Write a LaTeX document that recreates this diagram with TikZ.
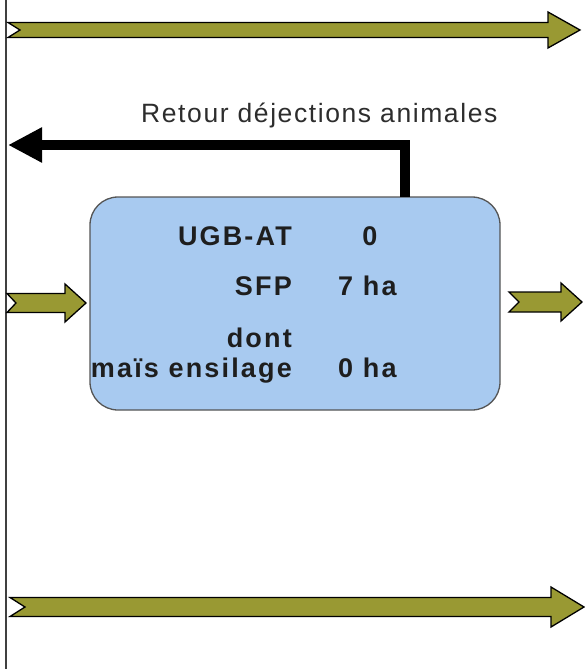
\documentclass[tikz,border=0pt]{standalone}
\usepackage{fontspec}
\setmainfont{Liberation Sans}
\usetikzlibrary{arrows.meta}
\definecolor{flowolive}{RGB}{153,153,51}
\definecolor{boxfill}{RGB}{168,202,240}
\definecolor{boxline}{RGB}{85,85,85}
\definecolor{txtgrey}{RGB}{30,30,30}
\definecolor{lblgrey}{RGB}{45,45,45}
\newcommand\flowarrow[7]{% xL xR yc bodyhalf headhalf headbase notch
  \filldraw[flowshape] (#1,#3-#4) -- (#6,#3-#4) -- (#6,#3-#5) -- (#2,#3)
    -- (#6,#3+#5) -- (#6,#3+#4) -- (#1,#3+#4) -- (#1+#7,#3) -- cycle;}
\begin{document}
\begin{tikzpicture}[x=1pt,y=-1pt,
  flowshape/.style={fill=flowolive, draw=black, line width=1.3pt, line join=miter},
  panel/.style={draw=boxline, fill=boxfill, rounded corners=28pt, line width=1.3pt,
    minimum width=410pt, minimum height=213pt, inner sep=0pt},
  lab/.style={font=\fontsize{27}{31}\selectfont\bfseries\addfontfeature{LetterSpace=8},
    text=txtgrey, inner sep=0pt},
  retlabel/.style={font=\fontsize{26.5}{30}\selectfont\addfontfeature{LetterSpace=6},
    text=lblgrey, inner sep=0pt},
  retour/.style={draw=black, line width=10pt, line join=miter,
    -{Triangle[length=34pt,width=33pt]}},
  border/.style={draw=black!75, line width=2pt}]
\useasboundingbox (0,0) rectangle (585,669);

% left boundary line
\coordinate (vtop) at (6,0);
\coordinate (vbot) at (6,669);
\draw[border] (vtop) -- (vbot);

% flow arrows
\flowarrow{8}{580}{30}{7.5}{18}{548}{12}
\flowarrow{7}{86}{303}{9.5}{19}{65}{9}
\flowarrow{509}{582}{302}{10}{19}{561}{10}
\flowarrow{10}{584}{607}{9.5}{20}{551}{15}

% central box
\node[panel] (box) at (295,303.5) {};

% return of manure
\coordinate (retStart) at (405,197);
\coordinate (retEnd) at (8,145);
\draw[retour] (retStart) |- (retEnd);
\node[retlabel, anchor=base west] (retlbl) at (141,122) {Retour déjections animales};

% box texts
\node[lab, anchor=base east] (ugb) at (292,245) {UGB-AT};
\node[lab, anchor=base] (ugbv) at (370,245) {0};
\node[lab, anchor=base east] (sfp) at (292,295) {SFP};
\node[lab, anchor=base west] (sfpv) at (338,295) {7 ha};
\node[lab, anchor=base east] (dont) at (292,347) {dont};
\node[lab, anchor=base east] (mais) at (292,377) {maïs ensilage};
\node[lab, anchor=base west] (maisv) at (338,377) {0 ha};
\end{tikzpicture}
\end{document}
